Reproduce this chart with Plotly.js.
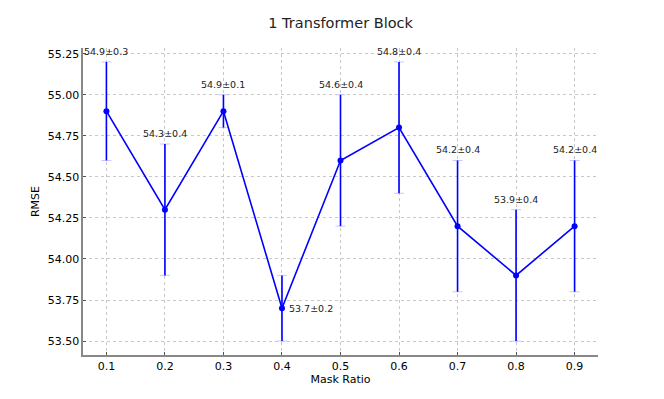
<!DOCTYPE html>
<html>
<head>
<meta charset="utf-8">
<script src="https://cdn.plot.ly/plotly-3.0.1.min.js"></script>
<style>
  html, body { margin: 0; padding: 0; background: #fff; }
  #chart { width: 664px; height: 399px; }
</style>
</head>
<body>
<div id="chart"></div>
<script>
  // Values.
  var maskRatio = [0.1, 0.2, 0.3, 0.4, 0.5, 0.6, 0.7, 0.8, 0.9];
  var rmse = [54.9, 54.3, 54.9, 53.7, 54.6, 54.8, 54.2, 53.9, 54.2];
  var rmseErr = [0.3, 0.4, 0.1, 0.2, 0.4, 0.4, 0.4, 0.4, 0.4];
  var yTicks = [53.5, 53.75, 54.0, 54.25, 54.5, 54.75, 55.0, 55.25];

  var FONT = "DejaVu Sans, sans-serif";
  var BLUE = "#0000ff";

  // Faint caps underneath, solid bars on top.
  var caps = {
    type: "scatter", mode: "lines", x: maskRatio, y: rmse,
    line: { color: "rgba(0,0,0,0)", width: 0 },
    error_y: { type: "data", array: rmseErr, visible: true,
               color: "#c8c8ff", thickness: 1, width: 5 },
    hoverinfo: "skip", showlegend: false
  };
  var main = {
    type: "scatter", mode: "lines+markers", x: maskRatio, y: rmse,
    line: { color: BLUE, width: 1.6 },
    marker: { color: BLUE, size: 6 },
    error_y: { type: "data", array: rmseErr, visible: true,
               color: BLUE, thickness: 1.6, width: 0 },
    showlegend: false
  };

  // Labels sit above each error bar, except the lowest point (0.4) which is labelled to the right.
  var annotations = maskRatio.map(function (x, i) {
    var text = rmse[i].toFixed(1) + "±" + rmseErr[i].toFixed(1);
    if (x === 0.4) {
      return { x: x, y: rmse[i], text: text, showarrow: false,
               xanchor: "left", yanchor: "middle", xshift: 5,
               font: { family: FONT, size: 9.5, color: "#222" } };
    }
    return { x: x, y: rmse[i] + rmseErr[i], text: text, showarrow: false,
             xanchor: "center", yanchor: "bottom", yshift: 3,
             font: { family: FONT, size: 9.5, color: "#222" } };
  });

  var layout = {
    width: 664, height: 399,
    margin: { l: 83, r: 66, t: 48, b: 44 },
    paper_bgcolor: "#fff", plot_bgcolor: "#fff",
    font: { family: FONT, size: 11, color: "#000" },
    title: { text: "1 Transformer Block", x: 0.513, xanchor: "center", y: 0.955,
             font: { family: FONT, size: 14.5, color: "#222" } },
    xaxis: {
      range: [0.06, 0.94], tickvals: maskRatio,
      ticktext: maskRatio.map(function (v) { return v.toFixed(1); }),
      ticks: "inside", ticklen: 3, tickcolor: "#555",
      showgrid: true, gridcolor: "#c8c8c8", griddash: "dot", gridwidth: 1,
      showline: true, linecolor: "#888", linewidth: 1.6, zeroline: false,
      title: { text: "Mask Ratio", standoff: 2, font: { family: FONT, size: 11 } }
    },
    yaxis: {
      range: [53.415, 55.285], tickvals: yTicks,
      ticktext: yTicks.map(function (v) { return v.toFixed(2); }),
      ticks: "inside", ticklen: 3, tickcolor: "#555",
      showgrid: true, gridcolor: "#c8c8c8", griddash: "dot", gridwidth: 1,
      showline: true, linecolor: "#888", linewidth: 1.6, zeroline: false,
      title: { text: "RMSE", standoff: 6, font: { family: FONT, size: 11 } }
    },
    annotations: annotations
  };

  Plotly.newPlot("chart", [caps, main], layout, { displayModeBar: false, staticPlot: true });
</script>
</body>
</html>
